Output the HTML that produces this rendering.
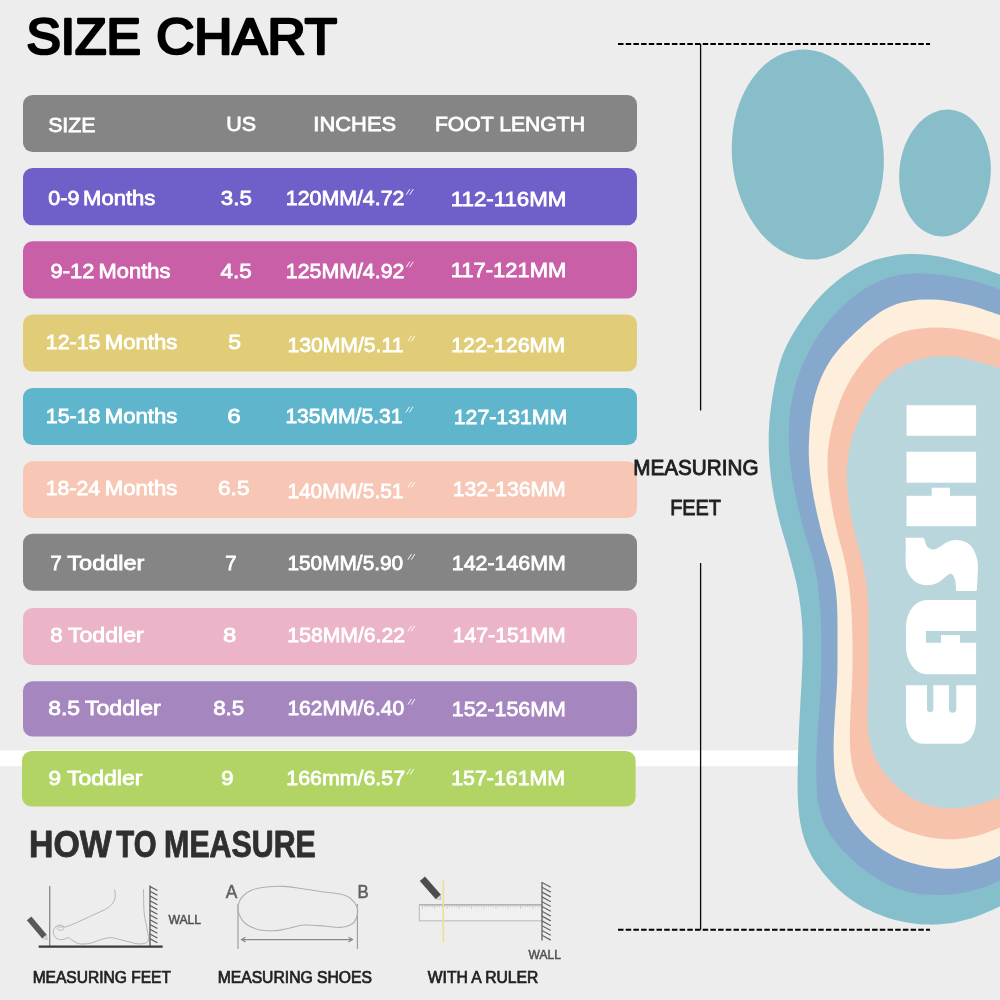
<!DOCTYPE html>
<html><head><meta charset="utf-8"><title>Size Chart</title>
<style>
html,body{margin:0;padding:0;background:#ededed;}
body{width:1000px;height:1000px;overflow:hidden;font-family:"Liberation Sans",sans-serif;}
svg{display:block;position:absolute;left:0;top:0;will-change:transform;}
text{font-family:"Liberation Sans",sans-serif;}
</style></head><body>
<svg width="1000" height="1000" viewBox="0 0 1000 1000">
<rect width="1000" height="1000" fill="#ededed"/>
<rect x="0" y="750.4" width="830" height="15.8" fill="#fff"/>
<ellipse cx="807.8" cy="154.6" rx="75.8" ry="105.2" fill="#88bdca" transform="rotate(-5 807.8 154.6)"/>
<ellipse cx="945" cy="173" rx="45.7" ry="63.6" fill="#88bdca" transform="rotate(5 945 173)"/>
<path d="M1030.0,286.0 C1028.4,285.4 1023.7,283.5 1020.6,282.3 C1017.5,281.1 1014.4,279.9 1011.2,278.6 C1008.1,277.4 1005.0,276.2 1001.8,275.1 C998.6,273.9 995.5,272.8 992.3,271.7 C989.1,270.6 985.9,269.6 982.7,268.5 C979.5,267.5 976.3,266.5 973.1,265.6 C969.9,264.6 966.7,263.6 963.4,262.7 C960.2,261.7 957.0,260.8 953.7,259.9 C950.5,259.1 947.2,258.3 944.0,257.5 C940.7,256.8 937.4,256.2 934.1,255.7 C930.8,255.2 927.4,254.8 924.1,254.5 C920.8,254.2 917.4,254.0 914.1,254.0 C910.7,254.0 907.4,254.1 904.0,254.3 C900.7,254.5 897.4,254.9 894.1,255.4 C890.8,255.9 887.5,256.6 884.2,257.4 C881.0,258.2 877.8,259.1 874.6,260.1 C871.4,261.2 868.3,262.4 865.2,263.7 C862.2,265.0 859.2,266.5 856.2,268.1 C853.3,269.7 850.4,271.4 847.6,273.2 C844.8,275.1 842.0,277.0 839.4,279.0 C836.7,281.1 834.1,283.2 831.6,285.4 C829.1,287.6 826.6,289.9 824.3,292.3 C821.9,294.6 819.6,297.1 817.4,299.6 C815.2,302.1 813.1,304.7 811.0,307.3 C808.9,310.0 806.9,312.7 804.9,315.4 C803.0,318.1 801.1,320.9 799.3,323.7 C797.4,326.5 795.6,329.4 793.9,332.2 C792.2,335.1 790.5,338.0 789.0,341.0 C787.4,344.0 785.9,347.0 784.6,350.1 C783.3,353.1 782.1,356.2 781.0,359.4 C779.9,362.6 779.0,365.8 778.2,369.0 C777.3,372.3 776.6,375.6 775.9,378.8 C775.2,382.1 774.5,385.4 773.9,388.7 C773.3,392.0 772.7,395.3 772.2,398.7 C771.7,402.0 771.2,405.3 770.8,408.6 C770.4,412.0 770.0,415.3 769.7,418.6 C769.4,422.0 769.1,425.3 769.0,428.7 C768.8,432.0 768.7,435.4 768.7,438.8 C768.7,442.1 768.7,445.5 768.8,448.8 C768.9,452.2 769.0,455.5 769.3,458.9 C769.5,462.2 769.7,465.6 770.1,468.9 C770.4,472.3 770.8,475.6 771.2,478.9 C771.6,482.3 772.1,485.6 772.6,488.9 C773.2,492.2 773.8,495.5 774.4,498.8 C775.1,502.1 775.8,505.4 776.5,508.7 C777.2,512.0 778.0,515.2 778.8,518.5 C779.6,521.8 780.5,525.0 781.4,528.2 C782.3,531.5 783.3,534.7 784.3,537.9 C785.2,541.1 786.2,544.3 787.1,547.5 C788.0,550.8 788.9,554.0 789.8,557.3 C790.7,560.5 791.6,563.7 792.4,567.0 C793.3,570.2 794.1,573.5 794.9,576.8 C795.7,580.0 796.4,583.3 797.1,586.6 C797.7,589.9 798.3,593.2 798.9,596.5 C799.4,599.8 799.9,603.1 800.4,606.5 C800.8,609.8 801.2,613.1 801.5,616.5 C801.8,619.8 802.1,623.2 802.3,626.5 C802.5,629.9 802.6,633.2 802.6,636.6 C802.7,639.9 802.7,643.3 802.7,646.7 C802.7,650.0 802.6,653.4 802.6,656.7 C802.5,660.1 802.4,663.4 802.3,666.8 C802.1,670.2 802.0,673.5 801.8,676.9 C801.7,680.2 801.5,683.6 801.3,686.9 C801.1,690.3 800.9,693.7 800.7,697.0 C800.5,700.4 800.3,703.7 800.2,707.1 C800.0,710.4 799.8,713.8 799.6,717.2 C799.5,720.5 799.3,723.9 799.1,727.2 C799.0,730.6 798.8,733.9 798.7,737.3 C798.5,740.7 798.4,744.0 798.3,747.4 C798.2,750.7 798.1,754.1 798.0,757.4 C797.9,760.8 797.8,764.2 797.7,767.5 C797.7,770.9 797.6,774.2 797.6,777.6 C797.6,781.0 797.6,784.3 797.6,787.7 C797.6,791.0 797.7,794.4 797.8,797.8 C797.9,801.1 798.1,804.5 798.4,807.8 C798.7,811.1 799.0,814.5 799.5,817.8 C800.0,821.1 800.6,824.4 801.3,827.7 C802.0,831.0 802.8,834.2 803.8,837.4 C804.7,840.6 805.9,843.7 807.2,846.8 C808.5,849.9 809.9,852.9 811.5,855.8 C813.1,858.7 814.9,861.6 816.8,864.3 C818.6,867.1 820.7,869.7 822.8,872.4 C824.9,875.0 827.1,877.5 829.3,880.0 C831.5,882.5 833.8,884.9 836.2,887.3 C838.6,889.6 841.1,891.9 843.7,894.0 C846.2,896.1 848.9,898.1 851.7,900.0 C854.4,901.9 857.3,903.7 860.1,905.4 C863.0,907.1 866.0,908.6 869.0,910.1 C872.0,911.6 875.1,913.0 878.2,914.2 C881.3,915.5 884.4,916.6 887.6,917.7 C890.8,918.7 894.0,919.7 897.3,920.5 C900.5,921.3 903.8,922.0 907.1,922.6 C910.4,923.2 913.7,923.6 917.0,924.0 C920.4,924.3 923.7,924.6 927.1,924.6 C930.4,924.7 933.8,924.7 937.1,924.5 C940.4,924.4 943.8,924.1 947.1,923.6 C950.4,923.2 953.7,922.6 957.0,921.9 C960.2,921.2 963.5,920.4 966.7,919.5 C969.9,918.6 973.1,917.5 976.3,916.4 C979.5,915.3 982.6,914.1 985.7,912.8 C988.8,911.6 991.9,910.2 994.9,908.8 C997.9,907.3 1000.9,905.8 1003.9,904.2 C1006.8,902.6 1009.7,900.9 1012.6,899.2 C1015.5,897.6 1018.4,895.8 1021.3,894.1 C1024.2,892.4 1028.6,889.9 1030.0,889.0 L1030,600Z" fill="#86bfcc"/>
<path d="M1030.0,300.0 C1028.4,299.4 1023.7,297.7 1020.5,296.6 C1017.3,295.4 1014.2,294.3 1011.0,293.2 C1007.8,292.0 1004.7,290.9 1001.5,289.8 C998.3,288.7 995.1,287.6 991.9,286.5 C988.7,285.5 985.5,284.5 982.3,283.5 C979.1,282.5 975.9,281.6 972.6,280.8 C969.4,279.9 966.1,279.1 962.8,278.4 C959.5,277.7 956.2,277.1 952.9,276.5 C949.6,275.9 946.3,275.4 942.9,275.0 C939.6,274.6 936.3,274.2 932.9,274.0 C929.6,273.7 926.2,273.6 922.9,273.5 C919.5,273.5 916.1,273.5 912.8,273.6 C909.5,273.8 906.1,274.1 902.8,274.6 C899.5,275.1 896.2,275.7 893.0,276.5 C889.7,277.3 886.5,278.3 883.4,279.5 C880.3,280.6 877.2,281.9 874.2,283.4 C871.2,284.9 868.3,286.5 865.4,288.3 C862.6,290.0 859.8,291.9 857.1,293.9 C854.4,295.9 851.8,298.0 849.3,300.2 C846.7,302.3 844.2,304.6 841.8,306.9 C839.4,309.3 837.1,311.7 834.8,314.2 C832.5,316.6 830.3,319.2 828.2,321.8 C826.1,324.4 824.1,327.1 822.1,329.8 C820.1,332.5 818.3,335.3 816.5,338.1 C814.7,341.0 812.9,343.9 811.3,346.8 C809.6,349.7 808.1,352.7 806.6,355.7 C805.1,358.7 803.7,361.7 802.4,364.8 C801.1,367.9 799.9,371.1 798.8,374.2 C797.7,377.4 796.6,380.6 795.7,383.8 C794.8,387.1 793.9,390.3 793.2,393.6 C792.5,396.9 791.8,400.2 791.3,403.5 C790.8,406.8 790.3,410.1 789.9,413.5 C789.6,416.8 789.3,420.1 789.1,423.5 C788.9,426.8 788.8,430.2 788.7,433.6 C788.7,436.9 788.7,440.3 788.8,443.7 C788.9,447.0 789.1,450.4 789.3,453.7 C789.6,457.1 789.9,460.4 790.3,463.8 C790.6,467.1 791.1,470.4 791.6,473.7 C792.1,477.1 792.7,480.4 793.3,483.7 C793.9,487.0 794.6,490.3 795.3,493.6 C795.9,496.9 796.6,500.2 797.3,503.5 C798.0,506.8 798.8,510.0 799.5,513.3 C800.3,516.6 801.1,519.9 801.9,523.1 C802.8,526.4 803.7,529.6 804.7,532.8 C805.6,536.0 806.7,539.2 807.7,542.4 C808.7,545.6 809.8,548.8 810.8,552.0 C811.8,555.2 812.7,558.4 813.5,561.7 C814.3,565.0 815.0,568.2 815.6,571.5 C816.2,574.8 816.8,578.2 817.3,581.5 C817.8,584.8 818.2,588.1 818.5,591.5 C818.9,594.8 819.2,598.2 819.5,601.5 C819.8,604.9 820.0,608.2 820.2,611.6 C820.4,614.9 820.6,618.3 820.7,621.7 C820.9,625.0 821.0,628.4 821.1,631.8 C821.1,635.1 821.2,638.5 821.2,641.8 C821.2,645.2 821.2,648.6 821.2,651.9 C821.2,655.3 821.2,658.7 821.2,662.0 C821.2,665.4 821.2,668.8 821.2,672.1 C821.1,675.5 821.0,678.9 820.9,682.2 C820.8,685.6 820.6,688.9 820.4,692.3 C820.2,695.7 820.0,699.0 819.8,702.4 C819.5,705.7 819.3,709.1 819.1,712.4 C818.8,715.8 818.6,719.1 818.3,722.5 C818.1,725.9 817.8,729.2 817.6,732.6 C817.4,735.9 817.2,739.3 817.0,742.6 C816.8,746.0 816.7,749.4 816.6,752.7 C816.5,756.1 816.4,759.5 816.3,762.8 C816.3,766.2 816.3,769.5 816.3,772.9 C816.3,776.3 816.4,779.6 816.5,783.0 C816.6,786.4 816.8,789.7 817.1,793.1 C817.3,796.4 817.7,799.7 818.2,803.0 C818.8,806.3 819.5,809.6 820.4,812.8 C821.3,816.0 822.3,819.2 823.6,822.2 C824.9,825.3 826.4,828.3 828.0,831.2 C829.7,834.0 831.6,836.8 833.5,839.5 C835.5,842.2 837.7,844.7 839.9,847.2 C842.2,849.7 844.5,852.2 846.9,854.5 C849.2,856.9 851.6,859.3 854.1,861.5 C856.6,863.7 859.2,865.9 861.8,868.0 C864.4,870.1 867.1,872.1 869.9,874.0 C872.6,875.9 875.5,877.7 878.4,879.4 C881.3,881.1 884.2,882.7 887.2,884.2 C890.2,885.6 893.3,887.0 896.4,888.2 C899.5,889.4 902.7,890.4 906.0,891.3 C909.2,892.2 912.5,892.8 915.7,893.4 C919.0,893.9 922.4,894.3 925.7,894.6 C929.1,894.8 932.4,895.0 935.8,895.0 C939.1,895.0 942.5,895.0 945.8,894.8 C949.2,894.6 952.5,894.3 955.8,893.8 C959.2,893.4 962.5,892.8 965.8,892.2 C969.0,891.5 972.3,890.7 975.5,889.8 C978.7,888.9 981.9,887.8 985.1,886.7 C988.3,885.6 991.4,884.3 994.5,883.0 C997.5,881.7 1000.6,880.2 1003.6,878.7 C1006.6,877.2 1009.5,875.6 1012.5,874.0 C1015.4,872.4 1018.3,870.7 1021.2,869.0 C1024.2,867.4 1028.5,864.8 1030.0,864.0 L1030,600Z" fill="#86a8cc"/>
<path d="M1030.0,326.0 C1028.4,325.4 1023.7,323.7 1020.5,322.5 C1017.3,321.4 1014.2,320.2 1011.0,319.1 C1007.8,317.9 1004.7,316.7 1001.5,315.6 C998.3,314.5 995.2,313.3 992.0,312.2 C988.8,311.2 985.6,310.1 982.4,309.0 C979.2,308.0 976.0,307.0 972.7,306.1 C969.5,305.2 966.2,304.4 962.9,303.7 C959.7,303.0 956.4,302.3 953.0,301.7 C949.7,301.2 946.4,300.7 943.1,300.3 C939.7,299.9 936.4,299.6 933.0,299.5 C929.7,299.4 926.3,299.4 923.0,299.5 C919.6,299.7 916.3,300.0 913.0,300.4 C909.7,300.9 906.3,301.5 903.1,302.3 C899.9,303.1 896.7,304.1 893.6,305.3 C890.5,306.5 887.5,307.9 884.5,309.5 C881.6,311.1 878.8,312.9 876.1,314.9 C873.4,316.8 870.7,318.9 868.2,321.0 C865.6,323.2 863.1,325.4 860.5,327.7 C858.0,329.9 855.6,332.2 853.1,334.5 C850.7,336.8 848.2,339.1 845.9,341.5 C843.5,343.9 841.2,346.4 839.0,348.9 C836.9,351.5 834.8,354.1 832.8,356.8 C830.9,359.6 829.1,362.4 827.4,365.3 C825.7,368.2 824.1,371.1 822.7,374.2 C821.3,377.2 820.0,380.3 818.8,383.4 C817.7,386.6 816.6,389.8 815.7,393.0 C814.8,396.2 814.0,399.5 813.3,402.8 C812.6,406.1 812.0,409.4 811.5,412.7 C810.9,416.0 810.5,419.4 810.2,422.7 C809.9,426.1 809.6,429.4 809.4,432.8 C809.2,436.1 809.0,439.5 808.9,442.9 C808.8,446.2 808.7,449.6 808.8,453.0 C808.8,456.3 809.0,459.7 809.2,463.0 C809.4,466.4 809.7,469.7 810.0,473.1 C810.4,476.4 810.8,479.8 811.3,483.1 C811.7,486.4 812.3,489.8 812.9,493.1 C813.4,496.4 814.1,499.7 814.8,503.0 C815.4,506.3 816.2,509.6 816.9,512.9 C817.7,516.2 818.4,519.4 819.2,522.7 C820.0,526.0 820.8,529.3 821.6,532.5 C822.5,535.8 823.4,539.0 824.3,542.2 C825.3,545.4 826.3,548.6 827.3,551.9 C828.3,555.1 829.3,558.3 830.1,561.5 C831.0,564.8 831.9,568.0 832.6,571.3 C833.3,574.6 834.0,577.9 834.5,581.2 C835.1,584.5 835.6,587.9 835.9,591.2 C836.3,594.5 836.6,597.9 836.8,601.2 C837.1,604.6 837.2,608.0 837.3,611.3 C837.4,614.7 837.4,618.1 837.5,621.4 C837.5,624.8 837.5,628.2 837.5,631.5 C837.5,634.9 837.5,638.3 837.5,641.6 C837.5,645.0 837.5,648.4 837.5,651.7 C837.5,655.1 837.5,658.5 837.5,661.9 C837.5,665.2 837.5,668.6 837.4,672.0 C837.3,675.3 837.2,678.7 837.1,682.1 C836.9,685.4 836.7,688.8 836.5,692.1 C836.3,695.5 836.1,698.9 835.8,702.2 C835.6,705.6 835.3,708.9 835.1,712.3 C834.9,715.7 834.7,719.0 834.5,722.4 C834.3,725.8 834.1,729.1 834.0,732.5 C833.8,735.9 833.7,739.2 833.7,742.6 C833.6,746.0 833.6,749.3 833.7,752.7 C833.7,756.1 833.8,759.4 834.0,762.8 C834.2,766.1 834.4,769.5 834.8,772.8 C835.2,776.2 835.6,779.5 836.3,782.8 C837.0,786.0 837.8,789.3 838.8,792.4 C839.9,795.6 841.1,798.7 842.5,801.8 C843.8,804.8 845.4,807.8 847.0,810.8 C848.6,813.7 850.3,816.6 852.2,819.4 C854.0,822.2 856.0,824.9 858.1,827.5 C860.1,830.1 862.4,832.7 864.7,835.0 C867.0,837.4 869.5,839.7 872.1,841.8 C874.7,843.9 877.4,846.0 880.1,847.9 C882.9,849.8 885.7,851.6 888.6,853.3 C891.5,854.9 894.5,856.5 897.5,857.9 C900.6,859.3 903.7,860.5 906.8,861.5 C910.0,862.6 913.3,863.5 916.5,864.3 C919.8,865.1 923.1,865.8 926.4,866.5 C929.7,867.1 933.0,867.6 936.3,868.0 C939.6,868.3 943.0,868.6 946.3,868.7 C949.7,868.8 953.0,868.7 956.4,868.4 C959.7,868.2 963.0,867.7 966.3,867.2 C969.6,866.6 972.9,865.8 976.1,865.0 C979.4,864.1 982.6,863.1 985.7,862.0 C988.9,860.8 992.0,859.6 995.1,858.2 C998.1,856.8 1001.1,855.2 1004.0,853.6 C1007.0,852.0 1009.9,850.3 1012.8,848.6 C1015.7,846.8 1018.5,845.1 1021.4,843.3 C1024.3,841.5 1028.6,838.9 1030.0,838.0 L1030,600Z" fill="#fdefdc"/>
<path d="M1030.0,352.0 C1028.4,351.4 1023.8,349.5 1020.6,348.2 C1017.5,346.9 1014.4,345.7 1011.3,344.4 C1008.1,343.2 1005.0,342.0 1001.9,340.8 C998.7,339.7 995.5,338.5 992.3,337.5 C989.1,336.5 985.9,335.5 982.7,334.6 C979.5,333.7 976.2,332.8 972.9,332.1 C969.6,331.3 966.4,330.6 963.1,330.1 C959.7,329.5 956.4,329.0 953.1,328.6 C949.8,328.2 946.4,328.0 943.1,327.8 C939.7,327.6 936.3,327.6 933.0,327.6 C929.6,327.7 926.3,327.8 922.9,328.2 C919.6,328.5 916.3,328.9 913.0,329.5 C909.7,330.1 906.5,330.9 903.3,331.8 C900.1,332.8 897.0,334.0 894.0,335.4 C891.0,336.8 888.1,338.4 885.3,340.2 C882.5,342.0 879.9,344.1 877.4,346.3 C874.9,348.4 872.5,350.8 870.2,353.2 C867.9,355.7 865.7,358.2 863.6,360.8 C861.5,363.4 859.4,366.0 857.5,368.8 C855.5,371.5 853.7,374.3 851.9,377.2 C850.2,380.0 848.5,383.0 847.0,385.9 C845.4,388.9 844.0,391.9 842.6,395.0 C841.3,398.1 840.1,401.2 838.9,404.4 C837.7,407.5 836.7,410.7 835.7,413.9 C834.7,417.1 833.8,420.4 832.9,423.6 C832.1,426.9 831.3,430.1 830.6,433.4 C830.0,436.7 829.3,440.0 828.9,443.3 C828.4,446.6 828.1,450.0 827.8,453.3 C827.6,456.7 827.5,460.0 827.5,463.4 C827.5,466.7 827.6,470.1 827.8,473.4 C828.0,476.8 828.2,480.1 828.6,483.5 C828.9,486.8 829.3,490.2 829.8,493.5 C830.3,496.8 830.8,500.1 831.4,503.5 C832.0,506.8 832.6,510.1 833.2,513.4 C833.9,516.7 834.6,520.0 835.3,523.3 C836.0,526.6 836.7,529.8 837.5,533.1 C838.3,536.4 839.2,539.6 840.1,542.9 C840.9,546.1 841.8,549.3 842.7,552.6 C843.5,555.9 844.3,559.1 845.0,562.4 C845.8,565.7 846.4,569.0 847.0,572.3 C847.6,575.6 848.2,578.9 848.6,582.2 C849.1,585.6 849.5,588.9 849.9,592.2 C850.2,595.6 850.5,598.9 850.8,602.3 C851.1,605.6 851.3,609.0 851.5,612.4 C851.7,615.7 851.9,619.1 852.0,622.4 C852.2,625.8 852.3,629.2 852.3,632.5 C852.4,635.9 852.4,639.3 852.5,642.6 C852.5,646.0 852.5,649.3 852.5,652.7 C852.5,656.1 852.5,659.4 852.5,662.8 C852.5,666.2 852.4,669.5 852.4,672.9 C852.3,676.3 852.2,679.6 852.0,683.0 C851.9,686.3 851.7,689.7 851.5,693.1 C851.3,696.4 851.1,699.8 850.9,703.1 C850.7,706.5 850.6,709.9 850.4,713.2 C850.3,716.6 850.1,719.9 850.0,723.3 C849.9,726.7 849.8,730.0 849.8,733.4 C849.8,736.8 849.8,740.1 850.0,743.5 C850.1,746.8 850.3,750.2 850.6,753.5 C850.9,756.8 851.3,760.2 851.9,763.5 C852.6,766.7 853.3,770.0 854.3,773.2 C855.2,776.4 856.3,779.5 857.6,782.6 C859.0,785.6 860.5,788.6 862.1,791.5 C863.7,794.4 865.5,797.3 867.4,800.0 C869.3,802.8 871.4,805.5 873.5,808.0 C875.7,810.5 878.0,813.0 880.4,815.2 C882.9,817.5 885.4,819.6 888.1,821.6 C890.8,823.5 893.7,825.2 896.6,826.7 C899.6,828.2 902.7,829.5 905.8,830.7 C908.9,831.9 912.1,832.9 915.4,833.8 C918.6,834.8 921.8,835.7 925.1,836.4 C928.4,837.1 931.7,837.8 935.0,838.2 C938.3,838.7 941.6,839.0 945.0,839.2 C948.3,839.3 951.7,839.3 955.0,839.2 C958.3,839.0 961.7,838.7 965.0,838.2 C968.3,837.7 971.6,837.1 974.8,836.3 C978.1,835.5 981.3,834.6 984.5,833.5 C987.7,832.5 990.8,831.3 993.9,830.0 C997.0,828.8 1000.1,827.4 1003.1,825.9 C1006.2,824.5 1009.2,823.0 1012.2,821.4 C1015.1,819.9 1018.1,818.3 1021.1,816.7 C1024.1,815.2 1028.5,812.8 1030.0,812.0 L1030,600Z" fill="#f7c3ad"/>
<path d="M1030.0,380.0 C1028.4,379.4 1023.7,377.5 1020.6,376.2 C1017.5,375.0 1014.3,373.7 1011.2,372.5 C1008.0,371.3 1004.9,370.1 1001.7,369.0 C998.5,367.9 995.3,366.8 992.1,365.8 C988.9,364.8 985.6,363.8 982.4,362.9 C979.2,361.9 975.9,361.0 972.6,360.2 C969.3,359.5 966.1,358.7 962.7,358.1 C959.4,357.5 956.1,357.0 952.8,356.7 C949.4,356.4 946.1,356.2 942.7,356.2 C939.4,356.2 936.0,356.4 932.7,356.8 C929.4,357.2 926.1,357.8 922.8,358.6 C919.6,359.3 916.3,360.3 913.2,361.4 C910.1,362.6 907.0,363.9 904.0,365.4 C901.0,366.9 898.1,368.6 895.4,370.5 C892.6,372.4 889.9,374.4 887.4,376.6 C884.9,378.8 882.6,381.2 880.4,383.7 C878.1,386.2 876.1,388.8 874.2,391.6 C872.2,394.3 870.4,397.2 868.7,400.1 C867.0,402.9 865.5,405.9 864.0,408.9 C862.4,411.9 861.0,415.0 859.6,418.1 C858.3,421.1 856.9,424.2 855.7,427.3 C854.5,430.5 853.4,433.6 852.4,436.8 C851.5,440.0 850.7,443.3 850.0,446.6 C849.2,449.9 848.6,453.2 848.1,456.5 C847.7,459.9 847.3,463.2 847.0,466.5 C846.8,469.9 846.7,473.3 846.7,476.6 C846.7,480.0 846.9,483.4 847.1,486.7 C847.3,490.1 847.7,493.4 848.1,496.8 C848.5,500.1 849.0,503.5 849.5,506.8 C850.0,510.1 850.5,513.5 851.1,516.8 C851.8,520.1 852.4,523.4 853.2,526.7 C853.9,530.0 854.8,533.3 855.6,536.5 C856.5,539.8 857.5,543.0 858.4,546.3 C859.3,549.5 860.2,552.8 861.0,556.0 C861.8,559.3 862.6,562.6 863.3,565.9 C864.0,569.2 864.6,572.5 865.1,575.8 C865.7,579.1 866.2,582.5 866.6,585.8 C867.0,589.2 867.4,592.5 867.7,595.9 C868.0,599.2 868.2,602.6 868.4,606.0 C868.5,609.4 868.6,612.7 868.7,616.1 C868.7,619.5 868.7,622.9 868.7,626.2 C868.8,629.6 868.7,633.0 868.7,636.4 C868.8,639.7 868.8,643.1 868.7,646.5 C868.7,649.9 868.8,653.2 868.7,656.6 C868.7,660.0 868.7,663.4 868.7,666.7 C868.7,670.1 868.6,673.5 868.6,676.9 C868.5,680.2 868.4,683.6 868.2,687.0 C868.1,690.4 868.0,693.7 867.9,697.1 C867.8,700.5 867.7,703.9 867.6,707.2 C867.6,710.6 867.6,714.0 867.7,717.4 C867.8,720.7 867.9,724.1 868.1,727.5 C868.4,730.8 868.6,734.2 869.2,737.5 C869.7,740.8 870.4,744.0 871.3,747.2 C872.3,750.4 873.4,753.5 874.8,756.6 C876.1,759.6 877.7,762.6 879.4,765.5 C881.2,768.3 883.0,771.2 885.0,773.8 C887.0,776.5 889.1,779.1 891.4,781.6 C893.7,784.1 896.1,786.4 898.6,788.6 C901.1,790.8 903.8,792.8 906.6,794.7 C909.3,796.5 912.2,798.3 915.2,799.8 C918.1,801.4 921.2,802.7 924.3,803.8 C927.5,805.0 930.7,805.9 933.9,806.6 C937.2,807.2 940.5,807.7 943.9,808.0 C947.2,808.3 950.6,808.3 953.9,808.2 C957.2,808.1 960.6,807.8 963.9,807.4 C967.2,806.9 970.6,806.3 973.8,805.6 C977.1,804.9 980.4,804.0 983.6,803.0 C986.8,802.1 990.0,801.0 993.2,799.8 C996.3,798.6 999.4,797.3 1002.5,796.0 C1005.6,794.6 1008.7,793.2 1011.7,791.8 C1014.8,790.3 1017.8,788.9 1020.9,787.4 C1023.9,785.9 1028.5,783.7 1030.0,783.0 L1030,600Z" fill="#b8d6dc"/>
<g fill="#fff"><rect x="906.5" y="405.2" width="69.6" height="30.6"/><rect x="906.5" y="451.7" width="69.6" height="31"/><rect x="931.7" y="487.7" width="18.3" height="9"/><rect x="906.5" y="495.8" width="69.6" height="30.4"/><path d="M905.7,537.7 L923.7,537.7 C924.0,538.3 924.7,540.1 925.2,541.5 C925.7,542.9 925.8,544.8 926.7,546.0 C927.6,547.2 929.1,548.5 930.5,549.0 C931.9,549.5 933.2,549.8 935.0,549.3 C936.8,548.8 939.0,547.2 941.0,546.0 C943.0,544.8 944.8,543.2 947.0,542.2 C949.2,541.2 952.0,540.2 954.5,540.0 C957.0,539.8 959.5,540.0 962.0,540.7 C964.5,541.5 967.4,542.6 969.5,544.5 C971.6,546.4 973.3,549.0 974.7,552.0 C976.1,555.0 977.2,558.8 977.7,562.5 C978.2,566.2 977.9,569.8 977.7,574.5 C977.5,579.2 976.9,588.2 976.7,591.0 L956,591 C956.0,590.2 955.9,587.8 955.8,586.0 C955.7,584.2 955.7,582.3 955.2,580.5 C954.7,578.7 953.9,576.3 953.0,575.2 C952.1,574.1 951.2,573.5 950.0,573.7 C948.8,574.0 947.2,575.4 945.5,576.7 C943.8,578.0 941.8,580.4 939.5,581.7 C937.2,583.0 934.5,584.2 932.0,584.7 C929.5,585.2 927.0,585.3 924.5,585.0 C922.0,584.7 919.2,584.0 917.0,582.7 C914.8,581.5 912.7,579.6 911.0,577.5 C909.3,575.4 907.7,572.5 906.8,570.0 C905.9,567.5 905.9,565.8 905.7,562.5 C905.5,559.2 905.7,552.1 905.7,550.0 L905.7,537.7Z"/><path d="M976.1,600 L927,600 C914,600 905.9,614 905.9,628 L905.9,646 C905.9,660 914,674.2 927,674.2 L976.1,674.2 L976.1,642.7 L960,642.7 L960,635 L941,635 L941,642.7 L926,642.7 L926,631 L976.1,631 Z"/><path d="M905.9,685.3 L927,685.3 L927,709 A3.15,3.15 0 0 0 933.3,709 L933.3,685.3 L949,685.3 L949,709 A3.65,3.65 0 0 0 956.3,709 L956.3,685.3 L976.1,685.3 L976.1,719 C976.1,733 970,743.7 960,743.7 L923,743.7 C912,743.7 905.9,733 905.9,719 Z"/></g>
<rect x="23.0" y="95.0" width="614.0" height="57.0" rx="9.6" fill="#858585"/>
<rect x="23.0" y="168.0" width="614.0" height="57.3" rx="9.6" fill="#6e5fc9"/>
<rect x="23.0" y="241.2" width="614.0" height="57.2" rx="9.6" fill="#c95fa6"/>
<rect x="23.0" y="314.5" width="614.0" height="57.0" rx="9.6" fill="#e1cd78"/>
<rect x="23.0" y="388.0" width="614.0" height="57.0" rx="9.6" fill="#5fb5cc"/>
<rect x="23.0" y="461.2" width="614.0" height="56.8" rx="9.6" fill="#f7c6b4"/>
<rect x="23.0" y="533.8" width="614.0" height="57.0" rx="9.6" fill="#858585"/>
<rect x="23.0" y="608.0" width="614.0" height="57.0" rx="9.6" fill="#ecb4c8"/>
<rect x="23.0" y="681.2" width="614.0" height="55.3" rx="9.6" fill="#a686be"/>
<rect x="22.0" y="751.0" width="613.6" height="55.5" rx="9.6" fill="#b1d465"/>
<text x="48.18" y="131.60" font-size="20.90" textLength="47.33" lengthAdjust="spacingAndGlyphs" fill="#fff" stroke="#fff" stroke-width="0.80" font-weight="normal" >SIZE</text>
<text x="226.24" y="131.20" font-size="20.90" textLength="29.84" lengthAdjust="spacingAndGlyphs" fill="#fff" stroke="#fff" stroke-width="0.80" font-weight="normal" >US</text>
<text x="313.38" y="131.20" font-size="20.90" textLength="82.73" lengthAdjust="spacingAndGlyphs" fill="#fff" stroke="#fff" stroke-width="0.80" font-weight="normal" >INCHES</text>
<text x="434.92" y="131.40" font-size="20.90" textLength="150.15" lengthAdjust="spacingAndGlyphs" fill="#fff" stroke="#fff" stroke-width="0.80" font-weight="normal" >FOOT LENGTH</text>
<text x="48.31" y="205.10" font-size="20.90" textLength="31.06" lengthAdjust="spacingAndGlyphs" fill="#fff" stroke="#fff" stroke-width="0.80" font-weight="normal" >0-9</text>
<text x="83.09" y="205.10" font-size="20.90" textLength="72.31" lengthAdjust="spacingAndGlyphs" fill="#fff" stroke="#fff" stroke-width="0.80" font-weight="normal" >Months</text>
<text x="220.80" y="205.10" font-size="20.90" textLength="30.98" lengthAdjust="spacingAndGlyphs" fill="#fff" stroke="#fff" stroke-width="0.80" font-weight="normal" >3.5</text>
<text x="285.77" y="205.10" font-size="20.90" textLength="118.65" lengthAdjust="spacingAndGlyphs" fill="#fff" stroke="#fff" stroke-width="0.80" font-weight="normal" >120MM/4.72</text>
<path d="M409.9,189.1 l-3.6,5.6 M413.3,189.1 l-3.6,5.6" stroke="#fff" stroke-width="1" stroke-opacity="0.92" fill="none"/>
<text x="450.75" y="205.60" font-size="20.90" textLength="115.63" lengthAdjust="spacingAndGlyphs" fill="#fff" stroke="#fff" stroke-width="0.80" font-weight="normal" >112-116MM</text>
<text x="50.62" y="277.60" font-size="20.90" textLength="43.83" lengthAdjust="spacingAndGlyphs" fill="#fff" stroke="#fff" stroke-width="0.80" font-weight="normal" >9-12</text>
<text x="98.60" y="277.60" font-size="20.90" textLength="71.79" lengthAdjust="spacingAndGlyphs" fill="#fff" stroke="#fff" stroke-width="0.80" font-weight="normal" >Months</text>
<text x="220.64" y="277.60" font-size="20.90" textLength="31.16" lengthAdjust="spacingAndGlyphs" fill="#fff" stroke="#fff" stroke-width="0.80" font-weight="normal" >4.5</text>
<text x="285.77" y="277.60" font-size="20.90" textLength="118.65" lengthAdjust="spacingAndGlyphs" fill="#fff" stroke="#fff" stroke-width="0.80" font-weight="normal" >125MM/4.92</text>
<path d="M409.9,261.6 l-3.6,5.6 M413.3,261.6 l-3.6,5.6" stroke="#fff" stroke-width="1" stroke-opacity="0.92" fill="none"/>
<text x="450.75" y="277.20" font-size="20.90" textLength="115.63" lengthAdjust="spacingAndGlyphs" fill="#fff" stroke="#fff" stroke-width="0.80" font-weight="normal" >117-121MM</text>
<text x="45.77" y="349.10" font-size="20.90" textLength="54.73" lengthAdjust="spacingAndGlyphs" fill="#fff" stroke="#fff" stroke-width="0.80" font-weight="normal" >12-15</text>
<text x="104.83" y="349.10" font-size="20.90" textLength="72.56" lengthAdjust="spacingAndGlyphs" fill="#fff" stroke="#fff" stroke-width="0.80" font-weight="normal" >Months</text>
<text x="228.23" y="349.10" font-size="20.90" textLength="12.84" lengthAdjust="spacingAndGlyphs" fill="#fff" stroke="#fff" stroke-width="0.80" font-weight="normal" >5</text>
<text x="287.41" y="351.80" font-size="20.90" textLength="116.01" lengthAdjust="spacingAndGlyphs" fill="#fff" stroke="#fff" stroke-width="0.80" font-weight="normal" >130MM/5.11</text>
<path d="M411.5,335.8 l-3.6,5.6 M414.9,335.8 l-3.6,5.6" stroke="#fff" stroke-width="1" stroke-opacity="0.92" fill="none"/>
<text x="451.17" y="352.40" font-size="20.90" textLength="113.98" lengthAdjust="spacingAndGlyphs" fill="#fff" stroke="#fff" stroke-width="0.80" font-weight="normal" >122-126MM</text>
<text x="45.77" y="423.30" font-size="20.90" textLength="54.76" lengthAdjust="spacingAndGlyphs" fill="#fff" stroke="#fff" stroke-width="0.80" font-weight="normal" >15-18</text>
<text x="104.83" y="423.30" font-size="20.90" textLength="72.56" lengthAdjust="spacingAndGlyphs" fill="#fff" stroke="#fff" stroke-width="0.80" font-weight="normal" >Months</text>
<text x="227.17" y="423.30" font-size="20.90" textLength="13.50" lengthAdjust="spacingAndGlyphs" fill="#fff" stroke="#fff" stroke-width="0.80" font-weight="normal" >6</text>
<text x="285.40" y="422.80" font-size="20.90" textLength="117.03" lengthAdjust="spacingAndGlyphs" fill="#fff" stroke="#fff" stroke-width="0.80" font-weight="normal" >135MM/5.31</text>
<path d="M409.5,406.8 l-3.6,5.6 M412.9,406.8 l-3.6,5.6" stroke="#fff" stroke-width="1" stroke-opacity="0.92" fill="none"/>
<text x="453.78" y="424.40" font-size="20.90" textLength="113.57" lengthAdjust="spacingAndGlyphs" fill="#fff" stroke="#fff" stroke-width="0.80" font-weight="normal" >127-131MM</text>
<text x="45.78" y="494.60" font-size="20.90" textLength="54.45" lengthAdjust="spacingAndGlyphs" fill="#fff" stroke="#fff" stroke-width="0.80" font-weight="normal" >18-24</text>
<text x="104.83" y="494.60" font-size="20.90" textLength="72.56" lengthAdjust="spacingAndGlyphs" fill="#fff" stroke="#fff" stroke-width="0.80" font-weight="normal" >Months</text>
<text x="218.00" y="494.60" font-size="20.90" textLength="31.56" lengthAdjust="spacingAndGlyphs" fill="#fff" stroke="#fff" stroke-width="0.80" font-weight="normal" >6.5</text>
<text x="287.41" y="498.00" font-size="20.90" textLength="116.01" lengthAdjust="spacingAndGlyphs" fill="#fff" stroke="#fff" stroke-width="0.80" font-weight="normal" >140MM/5.51</text>
<path d="M411.5,482.0 l-3.6,5.6 M414.9,482.0 l-3.6,5.6" stroke="#fff" stroke-width="1" stroke-opacity="0.92" fill="none"/>
<text x="452.79" y="496.40" font-size="20.90" textLength="112.95" lengthAdjust="spacingAndGlyphs" fill="#fff" stroke="#fff" stroke-width="0.80" font-weight="normal" >132-136MM</text>
<text x="50.61" y="570.30" font-size="20.90" textLength="11.26" lengthAdjust="spacingAndGlyphs" fill="#fff" stroke="#fff" stroke-width="0.80" font-weight="normal" >7</text>
<text x="67.39" y="570.30" font-size="20.90" textLength="77.09" lengthAdjust="spacingAndGlyphs" fill="#fff" stroke="#fff" stroke-width="0.80" font-weight="normal" >Toddler</text>
<text x="225.36" y="570.30" font-size="20.90" textLength="11.26" lengthAdjust="spacingAndGlyphs" fill="#fff" stroke="#fff" stroke-width="0.80" font-weight="normal" >7</text>
<text x="287.41" y="570.00" font-size="20.90" textLength="115.80" lengthAdjust="spacingAndGlyphs" fill="#fff" stroke="#fff" stroke-width="0.80" font-weight="normal" >150MM/5.90</text>
<path d="M411.5,554.0 l-3.6,5.6 M414.9,554.0 l-3.6,5.6" stroke="#fff" stroke-width="1" stroke-opacity="0.92" fill="none"/>
<text x="451.77" y="570.00" font-size="20.90" textLength="113.98" lengthAdjust="spacingAndGlyphs" fill="#fff" stroke="#fff" stroke-width="0.80" font-weight="normal" >142-146MM</text>
<text x="50.18" y="642.10" font-size="20.90" textLength="12.39" lengthAdjust="spacingAndGlyphs" fill="#fff" stroke="#fff" stroke-width="0.80" font-weight="normal" >8</text>
<text x="67.90" y="642.10" font-size="20.90" textLength="75.82" lengthAdjust="spacingAndGlyphs" fill="#fff" stroke="#fff" stroke-width="0.80" font-weight="normal" >Toddler</text>
<text x="223.11" y="642.10" font-size="20.90" textLength="13.27" lengthAdjust="spacingAndGlyphs" fill="#fff" stroke="#fff" stroke-width="0.80" font-weight="normal" >8</text>
<text x="287.39" y="641.80" font-size="20.90" textLength="117.68" lengthAdjust="spacingAndGlyphs" fill="#fff" stroke="#fff" stroke-width="0.80" font-weight="normal" >158MM/6.22</text>
<path d="M411.5,625.8 l-3.6,5.6 M414.9,625.8 l-3.6,5.6" stroke="#fff" stroke-width="1" stroke-opacity="0.92" fill="none"/>
<text x="452.79" y="642.40" font-size="20.90" textLength="112.95" lengthAdjust="spacingAndGlyphs" fill="#fff" stroke="#fff" stroke-width="0.80" font-weight="normal" >147-151MM</text>
<text x="48.15" y="714.60" font-size="20.90" textLength="31.91" lengthAdjust="spacingAndGlyphs" fill="#fff" stroke="#fff" stroke-width="0.80" font-weight="normal" >8.5</text>
<text x="84.90" y="714.60" font-size="20.90" textLength="75.82" lengthAdjust="spacingAndGlyphs" fill="#fff" stroke="#fff" stroke-width="0.80" font-weight="normal" >Toddler</text>
<text x="213.18" y="714.60" font-size="20.90" textLength="31.11" lengthAdjust="spacingAndGlyphs" fill="#fff" stroke="#fff" stroke-width="0.80" font-weight="normal" >8.5</text>
<text x="287.40" y="715.00" font-size="20.90" textLength="116.82" lengthAdjust="spacingAndGlyphs" fill="#fff" stroke="#fff" stroke-width="0.80" font-weight="normal" >162MM/6.40</text>
<path d="M411.5,699.0 l-3.6,5.6 M414.9,699.0 l-3.6,5.6" stroke="#fff" stroke-width="1" stroke-opacity="0.92" fill="none"/>
<text x="451.77" y="716.00" font-size="20.90" textLength="113.98" lengthAdjust="spacingAndGlyphs" fill="#fff" stroke="#fff" stroke-width="0.80" font-weight="normal" >152-156MM</text>
<text x="48.59" y="785.30" font-size="20.90" textLength="12.58" lengthAdjust="spacingAndGlyphs" fill="#fff" stroke="#fff" stroke-width="0.80" font-weight="normal" >9</text>
<text x="66.90" y="785.30" font-size="20.90" textLength="75.57" lengthAdjust="spacingAndGlyphs" fill="#fff" stroke="#fff" stroke-width="0.80" font-weight="normal" >Toddler</text>
<text x="221.36" y="785.30" font-size="20.90" textLength="12.28" lengthAdjust="spacingAndGlyphs" fill="#fff" stroke="#fff" stroke-width="0.80" font-weight="normal" >9</text>
<text x="286.37" y="784.80" font-size="20.90" textLength="118.70" lengthAdjust="spacingAndGlyphs" fill="#fff" stroke="#fff" stroke-width="0.80" font-weight="normal" >166mm/6.57</text>
<path d="M410.5,768.8 l-3.6,5.6 M413.9,768.8 l-3.6,5.6" stroke="#fff" stroke-width="1" stroke-opacity="0.92" fill="none"/>
<text x="451.17" y="784.80" font-size="20.90" textLength="113.98" lengthAdjust="spacingAndGlyphs" fill="#fff" stroke="#fff" stroke-width="0.80" font-weight="normal" >157-161MM</text>
<text x="26.51" y="53.75" font-size="50.15" textLength="114.35" lengthAdjust="spacingAndGlyphs" fill="#000" stroke="#000" stroke-width="2.70" font-weight="normal" stroke-linejoin="round" stroke-linecap="round">SIZE</text>
<text x="156.19" y="53.75" font-size="50.15" textLength="180.67" lengthAdjust="spacingAndGlyphs" fill="#000" stroke="#000" stroke-width="2.70" font-weight="normal" stroke-linejoin="round" stroke-linecap="round">CHART</text>
<text x="29.03" y="857.05" font-size="37.00" textLength="82.75" lengthAdjust="spacingAndGlyphs" fill="#2f2f2f" stroke="#2f2f2f" stroke-width="0.90" font-weight="bold" stroke-linejoin="round">HOW</text>
<text x="116.32" y="857.05" font-size="37.00" textLength="40.24" lengthAdjust="spacingAndGlyphs" fill="#2f2f2f" stroke="#2f2f2f" stroke-width="0.90" font-weight="bold" stroke-linejoin="round">TO</text>
<text x="164.12" y="857.05" font-size="37.00" textLength="151.71" lengthAdjust="spacingAndGlyphs" fill="#2f2f2f" stroke="#2f2f2f" stroke-width="0.90" font-weight="bold" stroke-linejoin="round">MEASURE</text>
<text x="32.67" y="983.05" font-size="15.80" textLength="138.33" lengthAdjust="spacingAndGlyphs" fill="#222" stroke="#222" stroke-width="0.70" font-weight="normal" >MEASURING FEET</text>
<text x="217.66" y="983.05" font-size="15.80" textLength="154.31" lengthAdjust="spacingAndGlyphs" fill="#222" stroke="#222" stroke-width="0.70" font-weight="normal" >MEASURING SHOES</text>
<text x="427.78" y="983.15" font-size="15.80" textLength="110.58" lengthAdjust="spacingAndGlyphs" fill="#222" stroke="#222" stroke-width="0.70" font-weight="normal" >WITH A RULER</text>
<text x="168.40" y="923.55" font-size="12.80" textLength="32.75" lengthAdjust="spacingAndGlyphs" fill="#505050" stroke="#505050" stroke-width="0.50" font-weight="normal" >WALL</text>
<text x="528.60" y="959.15" font-size="12.60" textLength="32.25" lengthAdjust="spacingAndGlyphs" fill="#505050" stroke="#505050" stroke-width="0.50" font-weight="normal" >WALL</text>
<text x="225.82" y="898.15" font-size="17.60" textLength="11.57" lengthAdjust="spacingAndGlyphs" fill="#606060" stroke="#606060" stroke-width="0.50" font-weight="normal" >A</text>
<text x="357.48" y="898.15" font-size="17.60" textLength="11.15" lengthAdjust="spacingAndGlyphs" fill="#606060" stroke="#606060" stroke-width="0.50" font-weight="normal" >B</text>
<text x="633.15" y="474.55" font-size="22.20" textLength="125.34" lengthAdjust="spacingAndGlyphs" fill="#1e1e1e" stroke="#1e1e1e" stroke-width="0.90" font-weight="normal" >MEASURING</text>
<text x="670.22" y="515.15" font-size="22.20" textLength="50.79" lengthAdjust="spacingAndGlyphs" fill="#1e1e1e" stroke="#1e1e1e" stroke-width="0.90" font-weight="normal" >FEET</text>
<line x1="618" y1="44" x2="930" y2="44" stroke="#000" stroke-width="2" stroke-dasharray="5.5 2.2"/>
<line x1="618" y1="929.8" x2="930" y2="929.8" stroke="#000" stroke-width="2" stroke-dasharray="5.5 2.2"/>
<line x1="700.6" y1="44" x2="700.6" y2="410.4" stroke="#0a0a0a" stroke-width="1.3"/>
<line x1="700.6" y1="563" x2="700.6" y2="929.5" stroke="#0a0a0a" stroke-width="1.3"/>
<line x1="49.7" y1="886" x2="49.7" y2="946" stroke="#888" stroke-width="1.3"/><line x1="38.7" y1="946.6" x2="162.7" y2="946.6" stroke="#3a3a3a" stroke-width="2.4"/><line x1="150" y1="885.5" x2="150" y2="946" stroke="#555" stroke-width="1.3"/><path d="M150,886.5 l7.4,4 M150,891.2 l7.4,4 M150,896.0 l7.4,4 M150,900.8 l7.4,4 M150,905.5 l7.4,4 M150,910.2 l7.4,4 M150,915.0 l7.4,4 M150,919.8 l7.4,4 M150,924.5 l7.4,4 M150,929.2 l7.4,4 M150,934.0 l7.4,4 M150,938.8 l7.4,4 " stroke="#5a5a5a" stroke-width="1.2" fill="none"/><g transform="translate(36.8,927.5) rotate(49.7)"><rect x="-11.9" y="-3" width="23.8" height="6" fill="#585858"/><path d="M11.9,-2.6 l4.2,2.6 l-4.2,2.6z" fill="#ddd" stroke="#aaa" stroke-width="0.5"/></g><path d="M114.6,889.3 C114.7,890.6 115.6,894.6 115.2,897.0 C114.8,899.4 114.0,901.6 112.4,903.6 C110.8,905.6 109.3,907.1 105.8,909.1 C102.3,911.1 96.6,913.3 91.5,915.7 C86.4,918.1 79.4,921.5 75.0,923.4 C70.6,925.3 66.8,926.6 65.1,927.2" fill="none" stroke="#b4b4b4" stroke-width="1"/><path d="M65.1,927.2 C64.2,926.9 61.7,925.2 60.0,925.2 C58.3,925.2 56.1,926.3 55.0,927.5 C53.9,928.7 53.3,930.8 53.3,932.4 C53.3,934.0 54.0,935.8 55.0,937.0 C56.0,938.2 58.0,939.1 59.5,939.5 C61.0,939.9 62.5,939.6 64.0,939.3 C65.5,939.0 67.1,937.6 68.4,937.7 C69.7,937.8 69.9,938.9 71.7,939.9 C73.5,940.9 76.3,943.2 79.4,943.8 C82.5,944.3 86.7,943.9 90.4,943.2 C94.1,942.5 97.9,940.3 101.4,939.4 C104.9,938.4 108.0,937.6 111.3,937.7 C114.6,937.8 118.1,939.2 121.2,939.9 C124.3,940.6 127.5,941.5 130.0,942.1 C132.5,942.7 134.0,943.3 136.0,943.6 C138.0,943.9 139.9,944.0 141.8,943.8 C143.7,943.5 146.2,943.3 147.3,942.1 C148.4,940.9 148.6,939.5 148.4,936.6 C148.2,933.7 146.9,928.7 146.2,924.5 C145.5,920.3 144.4,917.2 144.0,911.3 C143.6,905.4 143.6,893.0 143.5,889.3" fill="none" stroke="#b4b4b4" stroke-width="1"/><rect x="57.4" y="926.9" width="6.2" height="3.2" rx="1.5" fill="none" stroke="#b8b8b8" stroke-width="0.8"/><line x1="238" y1="904" x2="238" y2="949" stroke="#999" stroke-width="1.1"/><line x1="357.4" y1="904" x2="357.4" y2="949" stroke="#999" stroke-width="1.1"/><path d="M241.5,939.6 L352.5,939.6 M245.5,937.2 L241.5,939.6 L245.5,942 M348.5,937.2 L352.5,939.6 L348.5,942" stroke="#888" stroke-width="1.2" fill="none"/><path d="M243.0,896.0 C245.3,893.7 248.2,891.5 252.0,890.0 C255.8,888.5 260.7,887.6 266.0,887.0 C271.3,886.4 277.7,886.1 284.0,886.4 C290.3,886.7 297.3,888.1 304.0,889.0 C310.7,889.9 318.0,891.2 324.0,892.0 C330.0,892.8 335.7,893.0 340.0,894.0 C344.3,895.0 347.2,895.8 350.0,898.0 C352.8,900.2 355.8,904.0 357.0,907.0 C358.2,910.0 357.8,913.2 357.0,916.0 C356.2,918.8 354.8,922.1 352.0,924.0 C349.2,925.9 344.7,927.1 340.0,927.4 C335.3,927.7 330.0,926.4 324.0,926.0 C318.0,925.6 309.7,924.7 304.0,925.0 C298.3,925.3 294.7,927.1 290.0,928.0 C285.3,928.9 281.0,930.3 276.0,930.6 C271.0,930.9 265.0,931.1 260.0,930.0 C255.0,928.9 249.5,926.7 246.0,924.0 C242.5,921.3 240.3,917.3 239.0,914.0 C237.7,910.7 237.7,907.0 238.4,904.0 C239.1,901.0 240.7,898.3 243.0,896.0Z" fill="none" stroke="#b0b0b0" stroke-width="1.1"/><rect x="419.3" y="904.6" width="122.7" height="16.2" fill="#f0f0f0" stroke="#b8b8b8" stroke-width="1"/><path d="M422.5,905 v3.6 M424.9,905 v2.2 M427.4,905 v2.2 M429.8,905 v2.2 M432.3,905 v2.2 M434.7,905 v3.6 M437.2,905 v2.2 M439.6,905 v2.2 M442.1,905 v2.2 M444.5,905 v2.2 M447.0,905 v3.6 M449.4,905 v2.2 M451.9,905 v2.2 M454.3,905 v2.2 M456.8,905 v2.2 M459.2,905 v3.6 M461.7,905 v2.2 M464.1,905 v2.2 M466.6,905 v2.2 M469.0,905 v2.2 M471.5,905 v3.6 M473.9,905 v2.2 M476.4,905 v2.2 M478.8,905 v2.2 M481.3,905 v2.2 M483.7,905 v3.6 M486.2,905 v2.2 M488.6,905 v2.2 M491.1,905 v2.2 M493.5,905 v2.2 M496.0,905 v3.6 M498.4,905 v2.2 M500.9,905 v2.2 M503.3,905 v2.2 M505.8,905 v2.2 M508.2,905 v3.6 M510.7,905 v2.2 M513.1,905 v2.2 M515.6,905 v2.2 M518.0,905 v2.2 M520.5,905 v3.6 M522.9,905 v2.2 M525.4,905 v2.2 M527.8,905 v2.2 M530.3,905 v2.2 M532.8,905 v3.6 M535.2,905 v2.2 M537.7,905 v2.2 M540.1,905 v2.2 " stroke="#bdbdbd" stroke-width="0.8" fill="none"/><line x1="419.3" y1="904.8" x2="542" y2="904.8" stroke="#b0b0b0" stroke-width="1.3"/><line x1="443.3" y1="880.4" x2="443.3" y2="942" stroke="#ece09a" stroke-width="1.7"/><line x1="542" y1="882" x2="542" y2="940.4" stroke="#666" stroke-width="1.3"/><path d="M542,882.5 l8.8,4.8 M542,887.3 l8.8,4.8 M542,892.1 l8.8,4.8 M542,896.9 l8.8,4.8 M542,901.7 l8.8,4.8 M542,906.5 l8.8,4.8 M542,911.3 l8.8,4.8 M542,916.1 l8.8,4.8 M542,920.9 l8.8,4.8 M542,925.7 l8.8,4.8 M542,930.5 l8.8,4.8 M542,935.3 l8.8,4.8 " stroke="#666" stroke-width="1.2" fill="none"/><g transform="translate(430.4,887.9) rotate(49)"><rect x="-12.2" y="-3.45" width="24.4" height="6.9" fill="#4d4d4d"/><path d="M12.2,-2.6 l3.6,2.6 l-3.6,2.6z" fill="#ddd" stroke="#aaa" stroke-width="0.5"/></g>
</svg>
</body></html>
